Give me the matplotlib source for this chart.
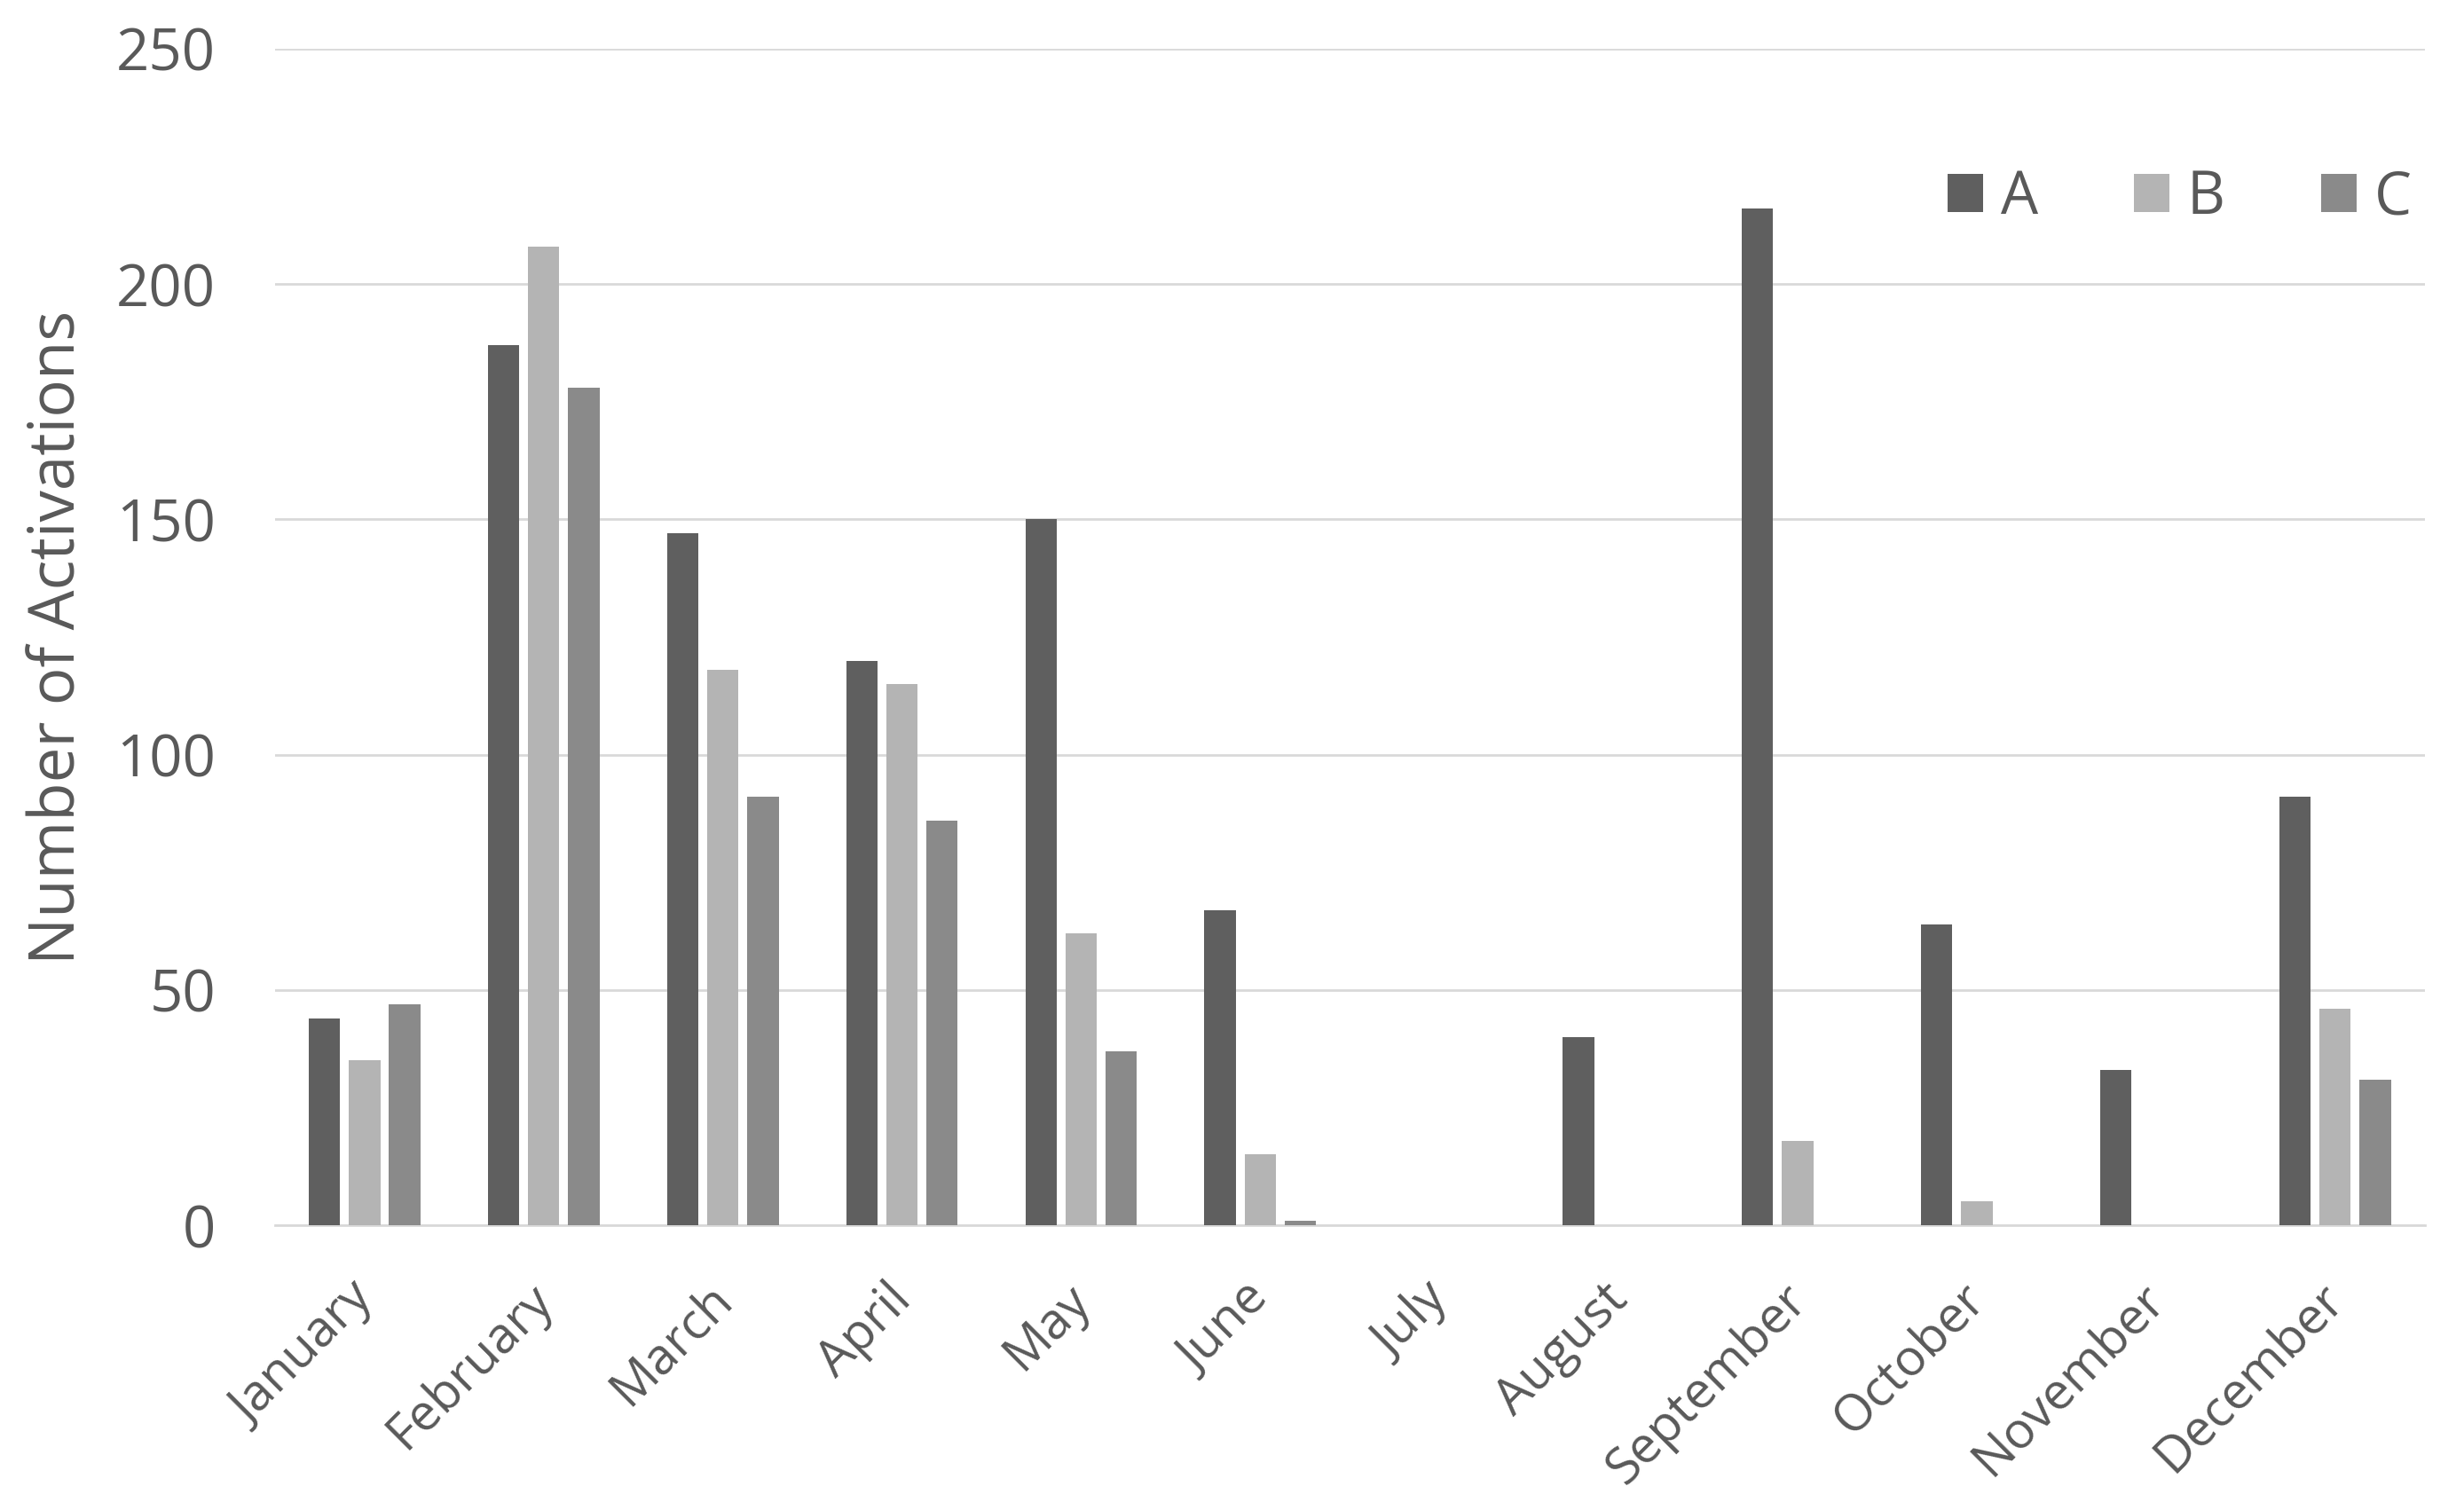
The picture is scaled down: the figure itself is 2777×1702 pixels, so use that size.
import numpy as np
import matplotlib
matplotlib.use("Agg")
import matplotlib.pyplot as plt
from matplotlib.transforms import ScaledTranslation

months = ["January", "February", "March", "April", "May", "June", "July",
          "August", "September", "October", "November", "December"]
series_a = [44, 187, 147, 120, 150, 67, 0, 40, 216, 64, 33, 91]
series_b = [35, 208, 118, 115, 62, 15, 0, 0, 18, 5, 0, 46]
series_c = [47, 178, 91, 86, 37, 1, 0, 0, 0, 0, 0, 31]
series_names = ["A", "B", "C"]
yticks = [0, 50, 100, 150, 200, 250]

colors = ["#5f5f5f", "#b4b4b4", "#8a8a8a"]
text_color = "#595959"
grid_color = "#d9d9d9"

plt.rcParams["font.family"] = ["Open Sans", "DejaVu Sans"]

fig = plt.figure(figsize=(13.885, 8.51), dpi=200)
ax = fig.add_axes([0.1116, 0.1886, 0.8724, 0.7791])

x = np.arange(len(months))
width = 0.175
step = 0.224
for i, vals in enumerate([series_a, series_b, series_c]):
    ax.bar(x + (i - 1) * step, vals, width, color=colors[i],
           label=series_names[i], zorder=3)

ax.set_xlim(-0.5, len(months) - 0.5)
ax.set_ylim(0, 250)
ax.set_yticks(yticks)
ax.yaxis.grid(True, color=grid_color, linewidth=1.0, zorder=0)
for s in ["top", "right", "left"]:
    ax.spines[s].set_visible(False)
ax.spines["bottom"].set_color(grid_color)
ax.spines["bottom"].set_linewidth(1.0)

ax.tick_params(axis="y", length=0, pad=24, labelsize=23.5, labelcolor=text_color)
ax.tick_params(axis="x", length=0, pad=20, labelcolor=text_color)
ax.set_xticks(x)
ax.set_xticklabels(months, rotation=45, ha="right", fontsize=20.5)
# nudge month labels a bit right, like the original
shift = ScaledTranslation(8 / 72, 0, fig.dpi_scale_trans)
for lbl in ax.get_xticklabels():
    lbl.set_transform(lbl.get_transform() + shift)

ax.set_ylabel("Number of Activations", fontsize=25.5, color=text_color)
ax.yaxis.set_label_coords(-0.086, 0.5)

ax.legend(loc="center left", bbox_to_anchor=(0.778, 0.873), ncol=3,
          frameon=False, fontsize=24, labelcolor=text_color,
          handlelength=0.6, handleheight=0.6, handletextpad=0.3,
          columnspacing=1.62, borderaxespad=0, borderpad=0)

fig.savefig("out.png")
